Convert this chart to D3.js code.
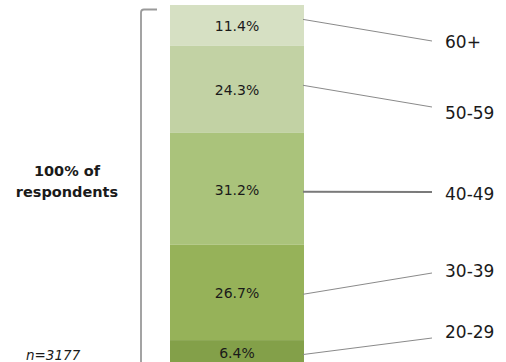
<!DOCTYPE html>
<html>
<head>
<meta charset="utf-8">
<script src="https://cdn.jsdelivr.net/npm/d3@7"></script>
<style>
  html, body { margin: 0; padding: 0; background: #fff; }
  svg { display: block; }
  text { font-family: "DejaVu Sans", sans-serif; fill: #1a1a1a; }
</style>
</head>
<body>
<script>
// Age distribution of respondents (top segment first)
const ageGroups = ["60+", "50-59", "40-49", "30-39", "20-29"];
const shares = [11.4, 24.3, 31.2, 26.7, 6.4];
const segmentColors = ["#d6e0c3", "#c2d2a4", "#aac37b", "#96b259", "#83a049"];
const sampleSize = 3177;
const totalLabel = ["100% of", "respondents"];

// Callout layout: label baselines and leader-line anchors
const labelBaseline = [47.5, 119, 200, 277, 338];
const leaderStartShift = [-6, -4, 3, 2, 3];
const leaderEndY = [41, 107, 192, 273, 338];
const leaderWidth = [1, 1, 2, 1, 1];

const W = 506, H = 362;
const svg = d3.select("body").append("svg")
  .attr("width", W).attr("height", H);

const x = d3.scaleBand().domain(["all"]).range([170, 304]);
const y = d3.scaleLinear().domain([0, 100]).range([5, 363]);

// cumulative start of each segment, from the top
const starts = [];
shares.reduce((acc, v, i) => { starts[i] = acc; return acc + v; }, 0);
const segs = ageGroups.map((g, i) => ({
  group: g, value: shares[i], start: starts[i], end: starts[i] + shares[i], i
}));

svg.append("g").selectAll("rect").data(segs).join("rect")
  .attr("x", x("all"))
  .attr("width", x.bandwidth())
  .attr("y", d => y(d.start))
  .attr("height", d => y(d.end) - y(d.start))
  .attr("fill", d => segmentColors[d.i]);

// value labels inside the bar
svg.append("g").selectAll("text").data(segs).join("text")
  .attr("x", x("all") + x.bandwidth() / 2)
  .attr("y", d => (y(d.start) + y(d.end)) / 2 + 6)
  .attr("text-anchor", "middle")
  .style("font-size", "14px")
  .text(d => d.value.toFixed(1) + "%");

// leader lines to the age-group names
svg.append("g").selectAll("line").data(segs).join("line")
  .attr("x1", x("all") + x.bandwidth() - 1)
  .attr("y1", d => (y(d.start) + y(d.end)) / 2 + leaderStartShift[d.i])
  .attr("x2", 432)
  .attr("y2", d => leaderEndY[d.i])
  .attr("stroke", d => d.i === 2 ? "#7a7a7a" : "#8a8a8a")
  .attr("stroke-width", d => leaderWidth[d.i]);

svg.append("g").selectAll("text").data(segs).join("text")
  .attr("x", 445)
  .attr("y", d => labelBaseline[d.i])
  .style("font-size", "17px")
  .text(d => d.group);

// bracket spanning the whole bar
const bx = 141, by = y(0) + 4.5;
svg.append("path")
  .attr("d", `M${bx + 16},${by} L${bx + 3},${by} Q${bx},${by} ${bx},${by + 3} L${bx},${H + 5}`)
  .attr("fill", "none")
  .attr("stroke", "#9a9a9a")
  .attr("stroke-width", 1.8);

svg.append("text")
  .attr("x", 67).attr("y", 176)
  .attr("text-anchor", "middle")
  .style("font-size", "14.5px").style("font-weight", "bold")
  .selectAll("tspan").data(totalLabel).join("tspan")
  .attr("x", 67)
  .attr("dy", (d, i) => i === 0 ? 0 : 21)
  .text(d => d);

svg.append("text")
  .attr("x", 26).attr("y", 360)
  .style("font-size", "13.5px").style("font-style", "italic")
  .text("n=" + sampleSize);
</script>
</body>
</html>
